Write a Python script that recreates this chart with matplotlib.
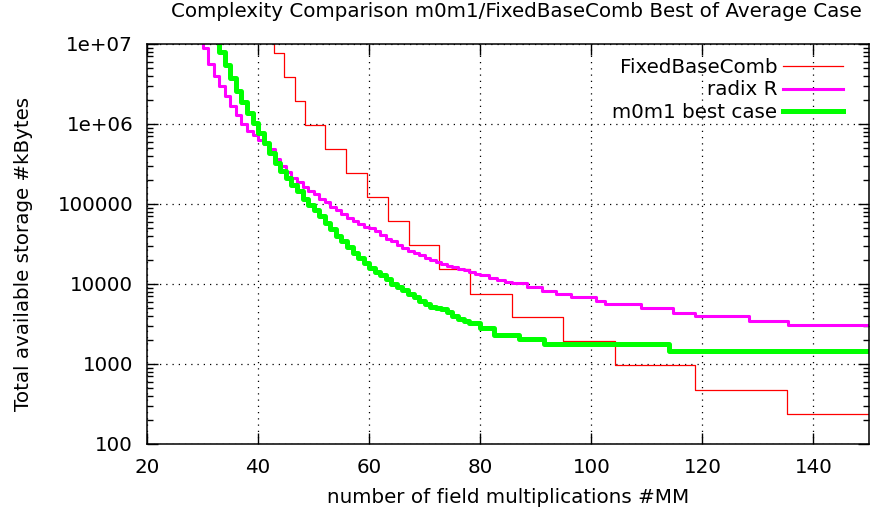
import matplotlib; matplotlib.use("Agg")
import matplotlib.pyplot as plt
from matplotlib.ticker import FixedLocator, FixedFormatter, LogLocator, NullFormatter

# FixedBaseComb: step positions (#MM) and storage (kBytes)
fbc_x = [41.1, 42.9, 44.7, 46.6, 48.5, 52.1, 55.9, 59.6, 63.4, 67.1, 72.6, 78.1,
         85.7, 94.9, 104.2, 118.7, 135.3, 150]
fbc_y = [1.54e7, 7.7e6, 3.84e6, 1.93e6, 9.7e5, 4.87e5, 2.44e5, 1.22e5, 6.1e4,
         3.05e4, 1.53e4, 7.6e3, 3.85e3, 1.92e3, 960, 477, 237, 237]

# radix R
radix_x = [29, 30, 31, 32, 33, 34, 35, 36, 37, 38, 39, 40, 41, 42, 43, 44, 45,
           46, 47, 48, 49, 50, 51, 52, 53, 54, 55, 56, 57, 58, 59, 60, 61, 62,
           63, 64, 65, 66, 67, 68, 69, 70, 71, 72, 73, 74, 75, 76, 77, 78, 79,
           80, 81.5, 83, 84.5, 85.8, 88.5, 91.2, 93.7, 96.4, 100.8, 102.4,
           109.0, 114.7, 118.6, 128.4, 135.4, 150]
radix_y = [1.4e7, 8.9e6, 5.6e6, 4.0e6, 2.95e6, 2.24e6, 1.70e6, 1.29e6, 1.0e6,
           8.1e5, 7.2e5, 6.3e5, 5.6e5, 4.8e5, 3.7e5, 3.0e5, 2.5e5, 2.14e5,
           1.86e5, 1.62e5, 1.45e5, 1.32e5, 1.17e5, 1.05e5, 9.3e4, 8.3e4, 7.4e4,
           6.6e4, 6.2e4, 5.6e4, 5.2e4, 5.0e4, 4.6e4, 4.1e4, 3.7e4, 3.4e4, 3.1e4,
           2.8e4, 2.6e4, 2.45e4, 2.3e4, 2.1e4, 2.0e4, 1.86e4, 1.78e4, 1.70e4,
           1.62e4, 1.55e4, 1.48e4, 1.41e4, 1.35e4, 1.29e4, 1.20e4, 1.12e4,
           1.07e4, 1.02e4, 9.1e3, 8.2e3, 7.5e3, 6.9e3, 6.2e3, 5.7e3, 4.97e3,
           4.3e3, 4.0e3, 3.4e3, 3.07e3, 3.07e3]

# m0m1 best case
m0m1_x = [32, 33, 34, 35, 36, 37, 38, 39, 40, 41, 42, 43, 44, 45, 46, 47, 48,
          49, 50, 51, 52, 53, 54, 55, 56, 57, 58, 59, 60, 61, 62, 63, 64, 65,
          66, 67, 68, 69, 70, 71, 72, 73, 74, 75, 76, 77, 78, 80, 82.5, 87,
          91.5, 113.9, 150]
m0m1_y = [1.5e7, 7.9e6, 5.5e6, 3.8e6, 2.6e6, 1.9e6, 1.38e6, 1.02e6, 7.8e5,
          5.8e5, 4.4e5, 3.3e5, 2.6e5, 2.14e5, 1.74e5, 1.45e5, 1.17e5, 9.8e4,
          8.3e4, 7.1e4, 5.8e4, 4.8e4, 4.0e4, 3.4e4, 2.9e4, 2.45e4, 2.1e4,
          1.82e4, 1.58e4, 1.41e4, 1.29e4, 1.15e4, 1.0e4, 9.1e3, 8.3e3, 7.6e3,
          6.9e3, 6.2e3, 5.6e3, 5.2e3, 5.0e3, 4.8e3, 4.5e3, 4.0e3, 3.6e3,
          3.4e3, 3.3e3, 2.8e3, 2.3e3, 2.05e3, 1.76e3, 1.47e3, 1.47e3]

y_ticks = [100, 1000, 10000, 100000, 1e6, 1e7]
y_labels = ["100", "1000", "10000", "100000", "1e+06", "1e+07"]
x_ticks = [20, 40, 60, 80, 100, 120, 140]

fs = 14.3
fig = plt.figure(figsize=(8.71, 5.17), dpi=100)
ax = fig.add_axes([0.1688, 0.1412, 0.8289, 0.7737])

ax.step(fbc_x, fbc_y, where="post", color="#ff0000", lw=0.9, label="FixedBaseComb")
ax.step(radix_x, radix_y, where="post", color="#ff00ff", lw=2.2, label="radix R")
ax.step(m0m1_x, m0m1_y, where="post", color="#00ff00", lw=3.6, label="m0m1 best case")

ax.set_yscale("log")
ax.set_xlim(20, 150)
ax.set_ylim(100, 1e7)
ax.xaxis.set_major_locator(FixedLocator(x_ticks))
ax.yaxis.set_major_locator(FixedLocator(y_ticks))
ax.yaxis.set_major_formatter(FixedFormatter(y_labels))
ax.yaxis.set_minor_locator(LogLocator(base=10, subs=range(2, 10)))
ax.yaxis.set_minor_formatter(NullFormatter())
ax.tick_params(which="both", direction="in", top=True, right=True, labelsize=fs, color="black")
ax.tick_params(which="major", length=8, width=1.0)
ax.tick_params(axis="y", which="major", pad=10)
ax.tick_params(axis="x", which="major", pad=10)
ax.tick_params(which="minor", length=4, width=1.0)
for s in ax.spines.values():
    s.set_linewidth(1.1)
ax.grid(True, which="major", color="black", linestyle=(0, (1, 4)), lw=0.9)

ax.set_xlabel("number of field multiplications #MM", fontsize=fs, labelpad=8)
ax.set_ylabel("Total available storage #kBytes", fontsize=fs, labelpad=18)
ax.yaxis.set_label_coords(-0.158, 0.475)
fig.text(0.593, 0.996, "Complexity Comparison m0m1/FixedBaseComb Best of Average Case",
         ha="center", va="top", fontsize=fs)

ax.legend(loc="upper right", frameon=False, markerfirst=False, fontsize=fs,
          handlelength=3.0, labelspacing=0.18, borderaxespad=0.3, handletextpad=0.3,
          bbox_to_anchor=(0.983, 1.0))

fig.savefig("out.png", dpi=100)
